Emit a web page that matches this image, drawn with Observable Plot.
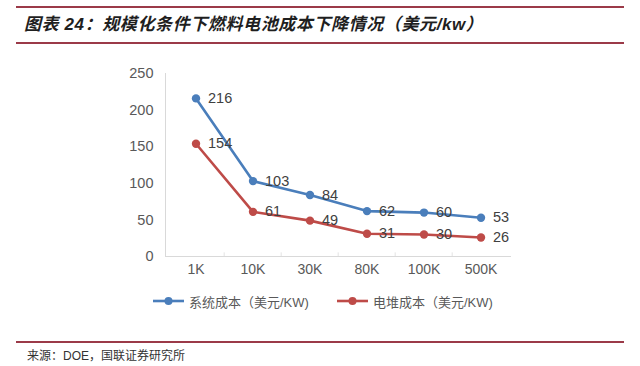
<!DOCTYPE html>
<html>
<head>
<meta charset="utf-8">
<script src="https://cdn.jsdelivr.net/npm/d3@7"></script>
<script src="https://cdn.jsdelivr.net/npm/@observablehq/plot@0.6"></script>
<style>
  html, body { margin: 0; padding: 0; background: #fff; }
  #page { position: relative; width: 640px; height: 366px; overflow: hidden; background: #fff;
    font-family: "Liberation Sans", Arial, "Noto Sans CJK SC", sans-serif; }
  .rule { position: absolute; left: 16px; width: 608px; height: 2px; background: #9b3a48; }
  #title { position: absolute; left: 24px; top: 10px; font-size: 17px; font-weight: bold; font-style: italic;
    letter-spacing: 0.6px; color: #1f1f1f; font-family: "Liberation Sans", Arial, "Noto Sans CJK SC", sans-serif; white-space: nowrap; }
  #chart { position: absolute; left: 0; top: 50px; }
  #legend { position: absolute; top: 291px; left: 0; width: 640px; height: 20px; font-size: 13px; color: #595959; }
  .item { position: absolute; top: 0; display: flex; align-items: center; height: 20px; white-space: nowrap; }
  .item svg { margin-right: 5px; }
  #source { position: absolute; left: 27px; top: 346px; font-size: 12px; color: #333; white-space: nowrap; }
</style>
</head>
<body>
<div id="page">
  <div class="rule" style="top:6px"></div>
  <div id="title">图表 24：规模化条件下燃料电池成本下降情况（美元/kw）</div>
  <div class="rule" style="top:42px"></div>
  <div id="chart"></div>
  <div id="legend"></div>
  <div class="rule" style="top:341px; height:1.5px"></div>
  <div id="source">来源：DOE，国联证券研究所</div>
</div>
<script>
const categories = ["1K", "10K", "30K", "80K", "100K", "500K"];
const systemCost = [216, 103, 84, 62, 60, 53];
const stackCost = [154, 61, 49, 31, 30, 26];
const seriesNames = ["系统成本（美元/KW)", "电堆成本（美元/KW)"];
const colors = ["#4a7ebb", "#be4b48"];
const yTicks = [0, 50, 100, 150, 200, 250];

const data = [];
categories.forEach((c, i) => {
  data.push({cat: c, value: systemCost[i], series: seriesNames[0]});
  data.push({cat: c, value: stackCost[i], series: seriesNames[1]});
});

const W = 640, H = 235, mL = 165, mR = 129;
const step = (W - mL - mR) / categories.length;

const chart = Plot.plot({
  width: W,
  height: H,
  marginLeft: mL,
  marginRight: mR,
  marginTop: 23,
  marginBottom: 29,
  style: {fontFamily: "Liberation Sans, Arial, sans-serif", fontSize: "14px", color: "#595959", background: "#fff"},
  x: {type: "band", domain: categories, padding: 0, label: null},
  y: {domain: [0, 250], label: null},
  color: {domain: seriesNames, range: colors},
  marks: [
    Plot.ruleY([0], {stroke: "#d9d9d9"}),
    Plot.frame({anchor: "left", stroke: "#d9d9d9"}),
    Plot.ruleX(categories.slice(1), {x: d => d, y1: 0, y2: 5, dx: -step / 2, stroke: "#e3e3e3"}),
    Plot.axisY({ticks: yTicks, tickSize: 0, tickPadding: 12, fontSize: 14.5, fill: "#595959", label: null}),
    Plot.axisX({tickSize: 0, tickPadding: 8, fontSize: 14, fill: "#595959", label: null}),
    Plot.line(data, {x: "cat", y: "value", z: "series", stroke: "series", strokeWidth: 2.6}),
    Plot.dot(data, {x: "cat", y: "value", fill: "series", r: 4.2}),
    Plot.text(data, {x: "cat", y: "value", text: d => String(d.value), dx: 12, textAnchor: "start", fill: "#404040", fontSize: 14.5})
  ]
});
document.getElementById("chart").appendChild(chart);

const legend = document.getElementById("legend");
const lx = [153, 337];
seriesNames.forEach((name, i) => {
  const item = document.createElement("div");
  item.className = "item";
  item.style.left = lx[i] + "px";
  item.innerHTML = `<svg width="31" height="10"><line x1="0" y1="5" x2="31" y2="5" stroke="${colors[i]}" stroke-width="2.6"/><circle cx="15.5" cy="5" r="4" fill="${colors[i]}"/></svg><span>${name}</span>`;
  legend.appendChild(item);
});
</script>
</body>
</html>
